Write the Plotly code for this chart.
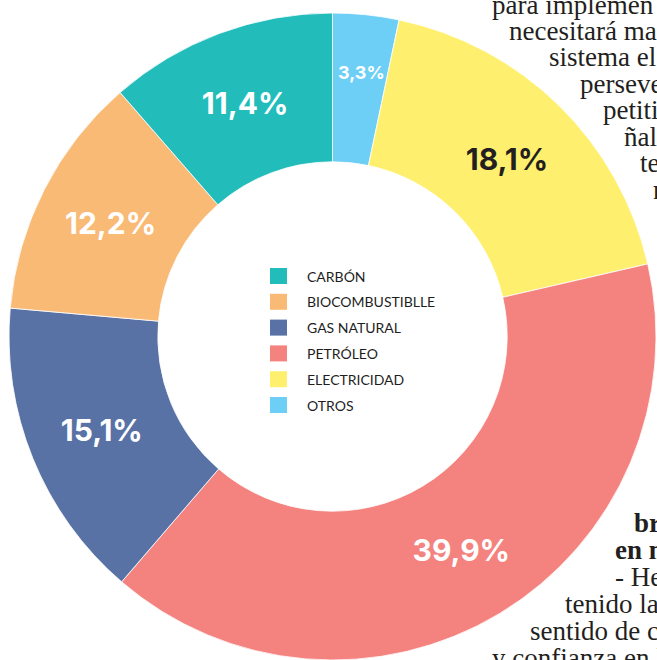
import math
import plotly.graph_objects as go

# energy mix (legend order)
labels = ["CARBÓN", "BIOCOMBUSTIBLLE", "GAS NATURAL", "PETRÓLEO", "ELECTRICIDAD", "OTROS"]
values = [11.4, 12.2, 15.1, 39.9, 18.1, 3.3]
colors = ["#22BDBB", "#F9BA75", "#5872A5", "#F4827E", "#FEF06E", "#6ECFF6"]
text_colors = ["white", "white", "white", "white", "#231F20", "white"]

pct_text = [f"{v:.1f}".replace(".", ",") + "%" for v in values]

# magazine text peeking out on the right (x, y in px, text, bold)
side_text = [
    (490, 5, "para implemen", False),
    (507, 31, "necesitará ma", False),
    (547, 57, "sistema el", False),
    (578, 84, "persever", False),
    (601, 110, "petiti", False),
    (622, 137, "ñalo", False),
    (638, 163, "te", False),
    (651, 190, "n", False),
    (632, 523, "br", True),
    (613, 550, "en m", True),
    (613, 577, "- Her", False),
    (563, 604, "tenido la", False),
    (528, 631, "sentido de cr", False),
    (490, 658, "y confianza en lo", False),
]

W, H = 657, 660
dom_x = [8 / W, 1]
dom_y = [0, 647 / H]

# the tiny OTROS slice gets its label placed by hand (plotly pushes it outward)
slice_text = [t if lab != "OTROS" else "" for t, lab in zip(pct_text, labels)]

# slices run clockwise from 12 o'clock in reverse legend order
fig = go.Figure(go.Pie(
    labels=labels[::-1],
    values=values[::-1],
    text=slice_text[::-1],
    texttemplate="%{text}",
    textposition="inside",
    insidetextorientation="horizontal",
    textfont=dict(family="Inter", size=30, color=text_colors[::-1], weight=700),
    marker=dict(colors=colors[::-1], line=dict(color="white", width=0.8)),
    hole=0.54,
    sort=False,
    direction="clockwise",
    rotation=0,
    domain=dict(x=dom_x, y=dom_y),
    showlegend=False,
))

# legend in the hole
shapes = []
annotations = []
for i, (lab, col) in enumerate(zip(labels, colors)):
    yc = 276 + i * 25.8
    shapes.append(dict(type="rect", xref="paper", yref="paper",
                       x0=270 / W, x1=287 / W, y0=1 - (yc + 8) / H, y1=1 - (yc - 8) / H,
                       fillcolor=col, line=dict(width=0)))
    annotations.append(dict(x=305 / W, y=1 - yc / H, xref="paper", yref="paper",
                            text=lab, showarrow=False, xanchor="left", yanchor="middle",
                            font=dict(family="Lato", size=14, color="#1E1E1E")))

# OTROS label at its slice's mid angle, out near the rim
cx = (dom_x[0] + dom_x[1]) / 2 * W
cy = H - (dom_y[0] + dom_y[1]) / 2 * H
r_out = min((dom_x[1] - dom_x[0]) * W, (dom_y[1] - dom_y[0]) * H) / 2
oi = labels.index("OTROS")
mid = math.radians(90 - values[oi] / sum(values) * 360 / 2)
lx = cx + 0.86 * r_out * math.cos(mid)
ly = cy - 0.86 * r_out * math.sin(mid)
annotations.append(dict(x=lx / W, y=1 - ly / H, xref="paper", yref="paper",
                        text=f"<b>{pct_text[oi]}</b>", showarrow=False,
                        font=dict(family="Inter", size=18, color="white")))

for x, y, t, b in side_text:
    annotations.append(dict(x=x / W, y=1 - y / H, xref="paper", yref="paper",
                            text=f"<b>{t}</b>" if b else t, showarrow=False,
                            xanchor="left", yanchor="middle",
                            font=dict(family="Liberation Serif", size=27, color="#231F20")))

fig.update_layout(
    width=W, height=H,
    margin=dict(l=0, r=0, t=0, b=0),
    paper_bgcolor="white",
    shapes=shapes,
    annotations=annotations,
)

# page body has an 8px default margin; drop it so the figure sits at the corner
fig.write_html("out.html", config={"displayModeBar": False},
               post_script="document.body.style.margin='0';")
